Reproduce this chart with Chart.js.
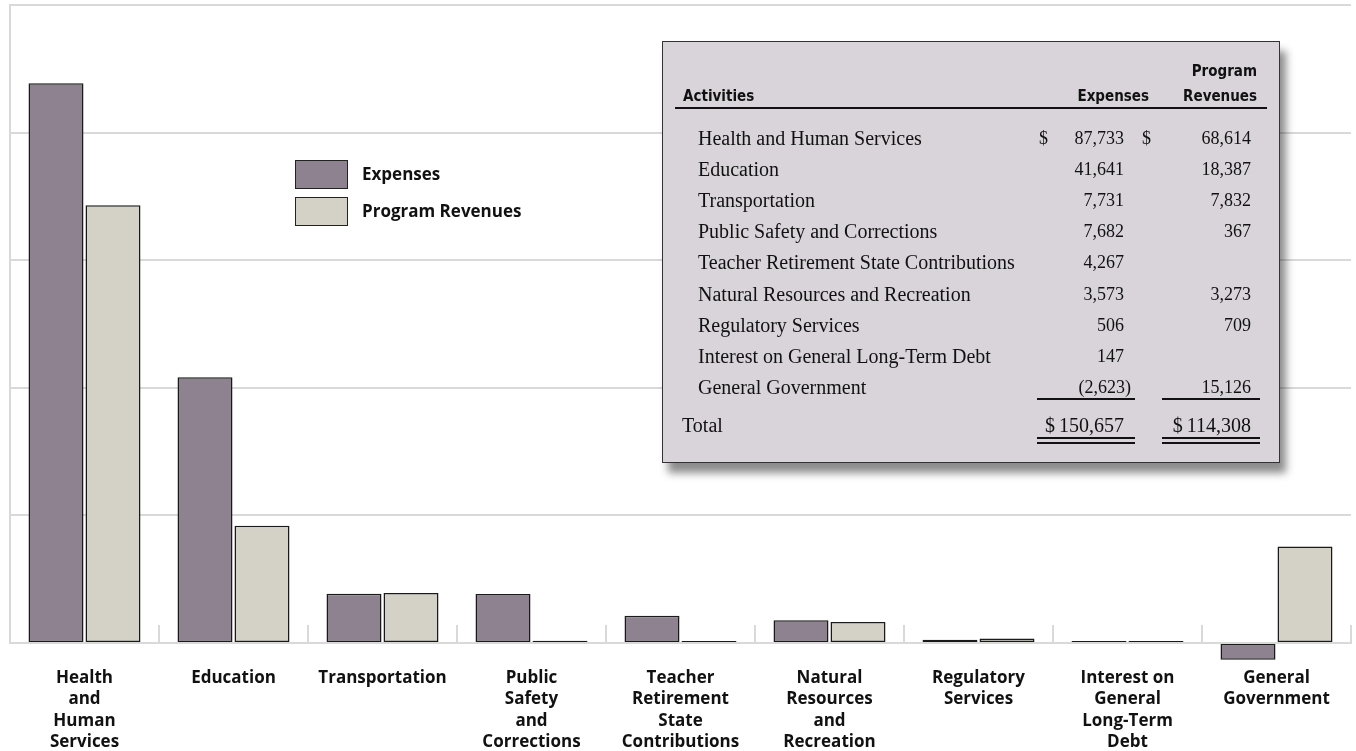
<!DOCTYPE html>
<html><head><meta charset="utf-8">
<script src="https://cdn.jsdelivr.net/npm/chart.js@4.4.1/dist/chart.umd.min.js"></script>
<style>
html,body{margin:0;padding:0;background:#fff;}
#wrap{position:relative;width:1356px;height:751px;overflow:hidden;}
#c{position:absolute;left:0;top:0;}
.lg-box{position:absolute;left:295px;width:53px;height:29px;box-sizing:border-box;border:1.5px solid #222;}
.lg-txt{position:absolute;left:362px;font:700 17px "Open Sans",sans-serif;color:#111;line-height:20px;}
#tbl{position:absolute;left:662px;top:41px;width:618px;height:422px;box-sizing:border-box;border:1.5px solid #333;background:#d8d4da;box-shadow:6px 10px 8px rgba(0,0,0,0.45);}
#tbl .h{position:absolute;font:700 15px "Liberation Sans Narrow","DejaVu Sans Condensed","Open Sans",sans-serif;font-stretch:condensed;color:#111;line-height:18px;white-space:nowrap;}
#tbl .s{position:absolute;font:20px "Liberation Serif","Times New Roman",serif;color:#111;line-height:22px;white-space:nowrap;}
#tbl .n{position:absolute;font:18px "Liberation Serif","Times New Roman",serif;color:#111;line-height:22px;white-space:nowrap;}
#tbl .t{position:absolute;font:20px "Liberation Serif","Times New Roman",serif;color:#111;line-height:22px;white-space:nowrap;}
#tbl .r{position:absolute;background:#111;}
</style></head>
<body><div id="wrap"><canvas id="c" width="1356" height="751" style="width:1356px;height:751px"></canvas>
<div id="legend"></div><div id="tbl"></div></div>
<script>
const categories = [
  ["Health","and","Human","Services"],
  ["Education"],
  ["Transportation"],
  ["Public","Safety","and","Corrections"],
  ["Teacher","Retirement","State","Contributions"],
  ["Natural","Resources","and","Recreation"],
  ["Regulatory","Services"],
  ["Interest on","General","Long-Term","Debt"],
  ["General","Government"]
];
const activityNames = [
  "Health and Human Services","Education","Transportation","Public Safety and Corrections",
  "Teacher Retirement State Contributions","Natural Resources and Recreation","Regulatory Services",
  "Interest on General Long-Term Debt","General Government"
];
const expenses = [87733, 41641, 7731, 7682, 4267, 3573, 506, 147, -2623];
const programRevenues = [68614, 18387, 7832, 367, 0, 3273, 709, 0, 15126];
const totalExpenses = 150657;
const totalRevenues = 114308;
const seriesLabels = ["Expenses","Program Revenues"];
const seriesColors = ["#8e8290","#d4d2c6"];
const yTicks = [0, 20000, 40000, 60000, 80000, 100000];

const GRID = '#d9d9d9';

const separators = {
  id: 'separators',
  beforeDatasetsDraw(chart) {
    const {ctx, chartArea, scales: {x}} = chart;
    const step = x.getPixelForValue(1) - x.getPixelForValue(0);
    ctx.save();
    ctx.strokeStyle = GRID; ctx.lineWidth = 2;
    for (let i = 0; i < categories.length; i++) {
      const px = Math.round(x.getPixelForValue(i) + step / 2);
      ctx.beginPath(); ctx.moveTo(px, chartArea.bottom); ctx.lineTo(px, chartArea.bottom - 18); ctx.stroke();
    }
    ctx.restore();
  }
};

new Chart(document.getElementById('c'), {
  type: 'bar',
  data: {
    labels: categories,
    datasets: [
      {label: seriesLabels[0], data: expenses, backgroundColor: seriesColors[0]},
      {label: seriesLabels[1], data: programRevenues, backgroundColor: seriesColors[1]}
    ].map(d => Object.assign(d, {borderColor: '#1a1a1a', borderWidth: 1.5, borderSkipped: false, clip: false,
      categoryPercentage: 0.765, barPercentage: 0.965, minBarLength: 2}))
  },
  options: {
    responsive: false, animation: false, devicePixelRatio: 1,
    layout: {padding: {left: 10, top: 5, right: 5, bottom: 0}},
    plugins: {legend: {display: false}, tooltip: {enabled: false}},
    scales: {
      x: {
        afterFit: s => { s.height = 108; },
        grid: {display: false, drawTicks: false, tickLength: 0},
        border: {display: true, color: GRID, width: 2},
        ticks: {font: {family: 'Open Sans', weight: 'bold', size: 17, lineHeight: 1.24}, color: '#111', padding: 25, maxRotation: 0, autoSkip: false}
      },
      y: {
        min: 0, max: 100000,
        afterBuildTicks: s => { s.ticks = yTicks.map(v => ({value: v})); },
        ticks: {display: false},
        grid: {color: GRID, lineWidth: 2, drawTicks: false},
        border: {display: true, color: GRID, width: 2}
      }
    }
  },
  plugins: [separators]
});

// legend
const lg = document.getElementById('legend');
seriesLabels.forEach((lab, i) => {
  const top = 160 + i * 37;
  const b = document.createElement('div'); b.className = 'lg-box';
  b.style.top = top + 'px'; b.style.background = seriesColors[i]; lg.appendChild(b);
  const t = document.createElement('div'); t.className = 'lg-txt';
  t.style.top = (top + 4) + 'px'; t.textContent = lab; lg.appendChild(t);
});

// table
const fmt = v => Math.abs(v).toString().replace(/\B(?=(\d{3})+(?!\d))/g, ',');
const tbl = document.getElementById('tbl');
function txt(cls, s, css) {
  const d = document.createElement('div'); d.className = cls; d.innerHTML = s;
  Object.assign(d.style, css); tbl.appendChild(d); return d;
}
function rule(x, y, w, h) {
  const d = document.createElement('div'); d.className = 'r';
  Object.assign(d.style, {left: x + 'px', top: y + 'px', width: w + 'px', height: h + 'px'}); tbl.appendChild(d);
}
const W = 615;
txt('h', 'Activities', {left: '20px', top: '45px'});
txt('h', 'Expenses', {right: (W - 485) + 'px', top: '45px', textAlign: 'right'});
txt('h', 'Program', {right: (W - 593) + 'px', top: '20px', textAlign: 'right'});
txt('h', 'Revenues', {right: (W - 593) + 'px', top: '45px', textAlign: 'right'});
rule(12, 65, 592, 2);
activityNames.forEach((name, i) => {
  const cy = 96 + 31.1 * i;
  const top = (cy - 11) + 'px';
  txt('s', name, {left: '35px', top});
  const e = expenses[i];
  const es = e < 0 ? '(' + fmt(e) + '<span style="margin-right:-7px">)</span>' : fmt(e);
  txt('n', es, {right: (W - 460) + 'px', top, textAlign: 'right'});
  const r = programRevenues[i];
  if (r) txt('n', fmt(r), {right: (W - 587) + 'px', top, textAlign: 'right'});
  if (i === 0) { txt('n', '$', {left: '376px', top}); txt('n', '$', {left: '479px', top}); }
});
rule(374, 356, 98, 1.5); rule(499, 356, 98, 1.5);
const tt = 372 + 'px';
txt('s', 'Total', {left: '19px', top: tt});
txt('t', '$&#8201;' + fmt(totalExpenses), {right: (W - 460) + 'px', top: tt, textAlign: 'right'});
txt('t', '$&#8201;' + fmt(totalRevenues), {right: (W - 587) + 'px', top: tt, textAlign: 'right'});
rule(374, 395, 98, 1.5); rule(374, 400, 98, 1.5);
rule(499, 395, 98, 1.5); rule(499, 400, 98, 1.5);
</script>
</body></html>
